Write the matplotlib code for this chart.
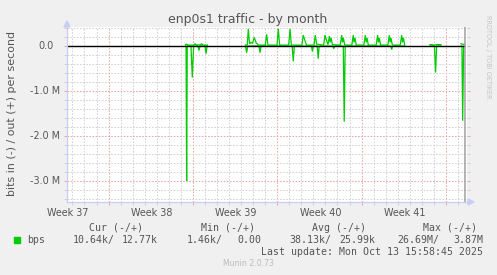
import numpy as np
import matplotlib
matplotlib.use("Agg")
import matplotlib.pyplot as plt
from matplotlib.patches import Polygon, Rectangle
from matplotlib.lines import Line2D
from matplotlib.transforms import blended_transform_factory, offset_copy

W, H, DPI = 497, 275, 100

# ---------------- data ----------------
title = "enp0s1 traffic - by month"
ylabel = "bits in (-) / out (+) per second"
week_labels = ["Week 37", "Week 38", "Week 39", "Week 40", "Week 41"]
week_label_days = [0.03, 7.03, 14.03, 21.03, 28.03]
week_start_days = [3.45, 10.45, 17.45, 24.45, 31.45]
y_major = [-3.0, -2.0, -1.0, 0.0]
y_major_labels = ["-3.0 M", "-2.0 M", "-1.0 M", "0.0"]
now_day = 33.07

nan = np.nan
# out (+) traffic, Mbit/s, days since start of window
out_days = [9.83, 9.90, 9.98, 10.04, 10.51, 10.62, 10.72, 11.08, 11.16, 11.30, 11.66, 11.70,
            14.81, 14.96, 15.05, 15.15, 15.27, 15.40, 15.54, 15.70, 15.89, 16.46, 16.57, 16.68,
            17.43, 17.54, 17.65, 18.40, 18.51, 18.62, 19.50, 19.61, 19.75, 19.88,
            20.50, 20.61, 20.72, 21.30, 21.41, 21.55, 21.66, 21.78, 21.85, 21.92, 22.03,
            22.68, 22.80, 22.87, 22.94, 23.05,
            23.64, 23.76, 23.83, 23.90, 24.01,
            24.64, 24.76, 24.83, 24.90, 25.01,
            25.66, 25.78, 25.85, 25.92, 26.03,
            26.63, 26.75, 26.82, 26.89, 27.00,
            27.66, 27.78, 27.85, 27.92, 28.03, 28.10,
            30.12, 30.30, 30.45, 30.72, 31.04, 31.10,
            32.70, 32.80, 32.97]
out_mbps = [0.03, 0.04, 0.03, 0.02, 0.02, 0.05, 0.02, 0.03, 0.05, 0.02, 0.02, nan,
            0.02, 0.02, 0.38, 0.05, 0.08, 0.06, 0.19, 0.07, 0.02, 0.02, 0.26, 0.02,
            0.02, 0.38, 0.02, 0.02, 0.38, 0.02, 0.02, 0.24, 0.12, 0.02,
            0.02, 0.24, 0.04, 0.02, 0.24, 0.12, 0.03, 0.22, 0.08, 0.18, 0.03,
            0.02, 0.24, 0.08, 0.18, 0.02,
            0.02, 0.24, 0.08, 0.18, 0.02,
            0.02, 0.24, 0.08, 0.18, 0.02,
            0.02, 0.24, 0.08, 0.18, 0.02,
            0.02, 0.24, 0.08, 0.18, 0.02,
            0.02, 0.24, 0.08, 0.18, 0.02, nan,
            0.03, 0.03, 0.02, 0.03, 0.03, nan,
            0.05, 0.04, 0.04]
# in (-) traffic, Mbit/s (drawn negative)
in_days = [9.83, 9.88, 9.93, 9.98, 10.29, 10.40, 10.51, 10.86, 10.95, 11.04, 11.45, 11.54, 11.63, 11.70,
           14.81, 14.91, 15.00, 15.93, 16.02, 16.11, 18.69, 18.78, 18.87, 20.29, 20.37, 20.45,
           20.77, 20.85, 20.93, 22.06, 22.14, 22.22, 22.93, 23.01, 23.09, 26.87, 26.95, 27.03, 28.03, 28.10,
           30.12, 30.50, 30.59, 30.68, 31.04, 31.10,
           32.70, 32.78, 32.84, 32.92, 32.97]
in_mbps = [0.0, 0.0, -3.0, 0.0, 0.0, -0.70, 0.0, 0.0, -0.10, 0.0, 0.0, -0.17, 0.0, nan,
           0.0, -0.15, 0.0, 0.0, -0.15, 0.0, 0.0, -0.34, 0.0, 0.0, -0.12, 0.0,
           0.0, -0.28, 0.0, 0.0, -0.06, 0.0, 0.0, -1.68, 0.0, 0.0, -0.08, 0.0, 0.0, nan,
           0.0, 0.0, -0.59, 0.0, 0.0, nan,
           0.0, 0.0, -1.66, 0.0, 0.0]

legend_name = "bps"
legend_headers = ["Cur (-/+)", "Min (-/+)", "Avg (-/+)", "Max (-/+)"]
legend_values = ["10.64k/", "12.77k", "1.46k/", "0.00", "38.13k/", "25.99k", "26.69M/", "3.87M"]
last_update = "Last update: Mon Oct 13 15:58:45 2025"
watermark = "Munin 2.0.73"
side_text = "RRDTOOL / TOBI OETIKER"

# ---------------- style ----------------
BG = "#f0f0f0"
GREEN = "#00cc00"
TXT = "#555555"
MGRID = "#e8a8a8"
GRID = "#d2d2d2"
AXIS = "#c8cdf5"

def fx(px):
    return px / W

def fy(py):
    return 1 - py / H

fig = plt.figure(figsize=(W / DPI, H / DPI), dpi=DPI, facecolor=BG)
ax = fig.add_axes([fx(67), fy(202), 400 / W, 175 / H])
ax.set_facecolor("white")
ax.set_xlim(0, 33.2)
ax.set_ylim(-3.467, 0.422)
for s in ax.spines.values():
    s.set_visible(False)

# grid / ticks
minor_days = [d for d in np.arange(0.45, 33.2, 1.0) if all(abs(d - m) > 0.01 for m in week_start_days)]
ax.set_xticks(week_start_days)
ax.set_xticks(minor_days, minor=True)
y_minor = [v for v in np.round(np.arange(-3.4, 0.41, 0.2), 2) if all(abs(v - m) > 0.01 for m in y_major)]
ax.set_yticks(y_major)
ax.set_yticks(y_minor, minor=True)
dash = (0, (1.5, 1.5))
ax.grid(which="major", color=MGRID, lw=0.75, ls=dash, zorder=0.5)
ax.grid(which="minor", color=GRID, lw=0.75, ls=dash, zorder=0.4)
ax.set_axisbelow(True)
ax.tick_params(which="both", direction="out", length=2.2, width=0.75,
               labelbottom=False, labelleft=False, left=True, right=True, bottom=True)
ax.tick_params(which="major", color=MGRID)
ax.tick_params(which="minor", color=GRID)

# data
ax.plot(out_days, out_mbps, color=GREEN, lw=0.9, zorder=2, solid_joinstyle="miter")
ax.plot(in_days, in_mbps, color=GREEN, lw=0.9, zorder=2, solid_joinstyle="miter")
ax.hlines(0, 0, now_day, color="black", lw=1.0, zorder=3)
ax.axvline(now_day, color="#a0a0a0", lw=1.1, zorder=3)

# y tick labels
bt = blended_transform_factory(ax.transAxes, ax.transData)
for v, lab in zip(y_major, y_major_labels):
    off = -13 if lab == "0.0" else -7
    tr = offset_copy(bt, fig=fig, x=off, y=0, units="dots")
    ax.text(0, v, lab, transform=tr, ha="right", va="center", fontsize=6.9, color=TXT)

# week labels
bx = blended_transform_factory(ax.transData, ax.transAxes)
trw = offset_copy(bx, fig=fig, x=0, y=-10.7, units="dots")
for d, lab in zip(week_label_days, week_labels):
    ax.text(d, 0, lab, transform=trw, ha="center", va="center", fontsize=6.9, color=TXT)

# axis lines with arrows
fig.add_artist(Line2D([fx(67), fx(67)], [fy(202), fy(25)], color=AXIS, lw=0.9, transform=fig.transFigure))
fig.add_artist(Line2D([fx(67), fx(469)], [fy(202), fy(202)], color=AXIS, lw=0.9, transform=fig.transFigure))
fig.add_artist(Polygon([[fx(64), fy(27)], [fx(70), fy(27)], [fx(67), fy(21)]], closed=True,
                       color=AXIS, transform=fig.transFigure))
fig.add_artist(Polygon([[fx(468), fy(199)], [fx(468), fy(205)], [fx(474), fy(202)]], closed=True,
                       color=AXIS, transform=fig.transFigure))

# texts
fig.text(fx(248), fy(20), title, ha="center", va="center", fontsize=9, color=TXT)
fig.text(fx(12), fy(114), ylabel, ha="center", va="center", rotation=90, fontsize=7.9, color=TXT)
fig.text(fx(488), fy(57), side_text, ha="center", va="center", rotation=270, fontsize=4.7, color="#c4c4c4")

mono = dict(family="DejaVu Sans Mono", fontsize=7.1, color=TXT, va="center", ha="left")
for px, h in zip([89, 201, 312, 423], legend_headers):
    fig.text(fx(px), fy(227.7), h, **mono)
fig.add_artist(Rectangle((fx(14), fy(243)), 6 / W, 6 / H, color=GREEN, transform=fig.transFigure))
fig.text(fx(27), fy(240), legend_name, **mono)
for px, v in zip([73, 122, 187, 237, 289, 339, 397, 453], legend_values):
    fig.text(fx(px), fy(240), v, **mono)
fig.text(fx(483), fy(251.7), last_update, **dict(mono, ha="right"))
fig.text(fx(248), fy(264), watermark, ha="center", va="center", fontsize=5.6, color="#bbbbbb")

fig.savefig("out.png", dpi=DPI, facecolor=BG)
